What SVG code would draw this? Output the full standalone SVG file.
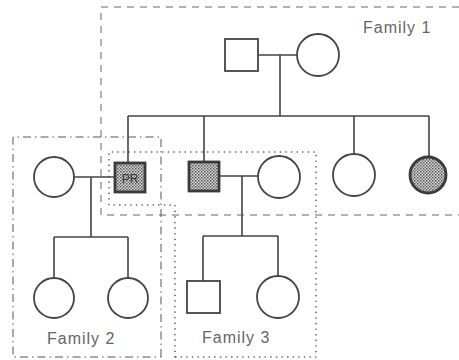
<svg xmlns="http://www.w3.org/2000/svg" width="459" height="360" viewBox="0 0 459 360">
<defs>
<pattern id="stip" width="3" height="3" patternUnits="userSpaceOnUse">
<rect width="3" height="3" fill="#d8d8d8"/>
<rect x="0" y="0" width="1.5" height="1.5" fill="#555"/>
<rect x="1.5" y="1.5" width="1.5" height="1.5" fill="#777"/>
</pattern>
</defs>
<style>
.ln{stroke:#444;stroke-width:1.6;fill:none}
.m{stroke:#444;stroke-width:1.8;fill:#fff}
.a{stroke:#3a3a3a;stroke-width:2.8;fill:url(#stip)}
.f1{stroke:#666;stroke-width:1;fill:none;stroke-dasharray:7 6}
.f2{stroke:#555;stroke-width:1;fill:none;stroke-dasharray:8 4 1.5 4}
.f3{stroke:#555;stroke-width:1.6;fill:none;stroke-dasharray:0.1 5.5;stroke-linecap:round}
.lbl{font-family:"Liberation Sans",Arial,sans-serif;font-size:16px;fill:#666;letter-spacing:1px}
.pr{font-family:"Liberation Sans",Arial,sans-serif;font-size:12px;fill:#333}
</style>
<g id="boxes">
<path class="f1" d="M459,7 H101 V215 H459"/>
<path class="f2" d="M161,357 V137 H13 V357 H161"/>
<path class="f3" d="M175,357 V205 H109 V152 H316 V357 H175"/>
</g>
<g id="connectors">
<path class="ln" d="M258,55 H297 M280,55 V116 M128,116 H429 M128,116 V163 M204,116 V163 M354,116 V154 M429,116 V157"/>
<path class="ln" d="M74,177 H115 M91,177 V237 M54,237 H128 M54,237 V278 M128,237 V278"/>
<path class="ln" d="M219,176 H258 M242,176 V236 M203,236 H278 M203,236 V281 M278,236 V276"/>
</g>
<g id="f1-father"><rect class="m" x="225" y="39" width="33" height="32"/></g>
<g id="f1-mother"><circle class="m" cx="318" cy="55" r="21"/></g>
<g id="proband"><rect class="a" x="115" y="163" width="30" height="29"/><text class="pr" x="130" y="182.5" text-anchor="middle">PR</text></g>
<g id="f1-son2"><rect class="a" x="189" y="162" width="30" height="29"/></g>
<g id="f1-dau1"><circle class="m" cx="354" cy="175" r="21"/></g>
<g id="f1-dau2"><circle class="a" cx="428" cy="175" r="18"/></g>
<g id="f2-mother"><circle class="m" cx="54" cy="177" r="20"/></g>
<g id="f2-child1"><circle class="m" cx="54" cy="298" r="20"/></g>
<g id="f2-child2"><circle class="m" cx="128" cy="298" r="20"/></g>
<g id="f3-mother"><circle class="m" cx="279" cy="177" r="21"/></g>
<g id="f3-son"><rect class="m" x="187" y="281" width="33" height="32"/></g>
<g id="f3-dau"><circle class="m" cx="278" cy="297" r="21"/></g>
<g id="labels">
<text class="lbl" x="363" y="33">Family 1</text>
<text class="lbl" x="47" y="344">Family 2</text>
<text class="lbl" x="202" y="343">Family 3</text>
</g>
</svg>
